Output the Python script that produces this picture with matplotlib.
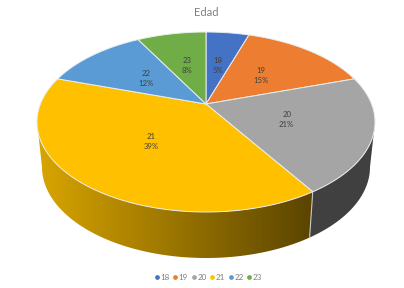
import numpy as np
import matplotlib
matplotlib.use("Agg")
import matplotlib.pyplot as plt
from matplotlib.patches import Polygon
from matplotlib.lines import Line2D
from matplotlib.colors import LinearSegmentedColormap

plt.rcParams['font.family'] = ['Lato', 'DejaVu Sans']

categories = ['18', '19', '20', '21', '22', '23']
values = [5, 15, 21, 39, 12, 8]
percent_labels = ['5%', '15%', '21%', '39%', '12%', '8%']
colors = ['#4472C4', '#ED7D31', '#A5A5A5', '#FFC000', '#5B9BD5', '#70AD47']
title = 'Edad'

W, H = 404, 288
CX, CY, RX, RY = 206, 122, 169, 90      # top ellipse
BX, BY, BRX, BRY = 206, 167, 164, 91    # bottom ellipse
TILT = 0.2                               # perspective shift of the pie centre


def project(u, v):
    d = 1 + TILT * v
    return u * np.sqrt(1 - TILT ** 2) / d, (v + TILT) / d


def top_xy(theta, r=1.0):
    u, v = project(r * np.sin(theta), r * np.cos(theta))
    return CX + RX * u, CY - RY * v


fig = plt.figure(figsize=(W / 100, H / 100), dpi=100)
ax = fig.add_axes([0, 0, 1, 1])
ax.axis('off')

edges = np.cumsum([0] + values) / sum(values) * 2 * np.pi


def wall(x0, x1, c0, c1, z):
    a0, a1 = np.arccos(np.clip(x0, -1, 1)), np.arccos(np.clip(x1, -1, 1))
    angs = np.linspace(a0, a1, 300)
    top = np.column_stack([CX + RX * np.cos(angs), CY + RY * np.sin(angs)])
    bot = np.column_stack([BX + BRX * np.cos(angs), BY + BRY * np.sin(angs)])
    outline = np.vstack([top, bot[::-1]])
    left, right = outline[:, 0].min(), outline[:, 0].max()
    cmap = LinearSegmentedColormap.from_list('wall', [c0, c1])
    im = ax.imshow(np.linspace(0, 1, 256)[None, :], cmap=cmap, aspect='auto',
                   extent=(left, right, outline[:, 1].max(), outline[:, 1].min()),
                   zorder=z, interpolation='bilinear')
    clip = Polygon(outline, closed=True, transform=ax.transData, fc='none', ec='none')
    ax.add_patch(clip)
    im.set_clip_path(clip)


jx, jy = top_xy(edges[3])
ju = (jx - CX) / RX
wall(-1, ju, '#D9A500', '#5A4400', 1)
wall(ju, 1, '#404040', '#404040', 1)
ax.plot([jx, BX + BRX * ju], [jy, BY + BRY * np.sqrt(1 - ju * ju)],
        color='#C8C8C0', lw=0.8, zorder=2)

# Top face wedges
for i, col in enumerate(colors):
    t = np.linspace(edges[i], edges[i + 1], 120)
    xs, ys = top_xy(t)
    ox, oy = top_xy(0.0, 0.0)
    pts = np.column_stack([np.r_[ox, xs], np.r_[oy, ys]])
    ax.add_patch(Polygon(pts, closed=True, fc=col, ec='#E8EEF0', lw=0.7,
                         joinstyle='round', zorder=3))

# Data labels
for i, (cat, pct) in enumerate(zip(categories, percent_labels)):
    mid = (edges[i] + edges[i + 1]) / 2
    lx, ly = top_xy(mid, 0.5)
    ax.text(lx, ly - 5, cat, ha='center', va='center', fontsize=5.6,
            color='#404040', zorder=5)
    ax.text(lx, ly + 5, pct, ha='center', va='center', fontsize=5.6,
            color='#404040', zorder=5)

ax.text(206, 13, title, ha='center', va='center', fontsize=8, color='#7F7F7F')

ax.set_xlim(0, W)
ax.set_ylim(H, 0)

handles = [Line2D([], [], ls='none', marker='o', ms=2.4, color=c, label=n)
           for c, n in zip(colors, categories)]
leg = ax.legend(handles=handles, ncol=6, loc='center', frameon=False,
                bbox_to_anchor=(207.5 / W, 1 - 277 / H), fontsize=5.8,
                labelcolor='#7F7F7F', handletextpad=0.0, columnspacing=0.25,
                handlelength=0.9, borderpad=0)

fig.savefig('out.png', dpi=100)
